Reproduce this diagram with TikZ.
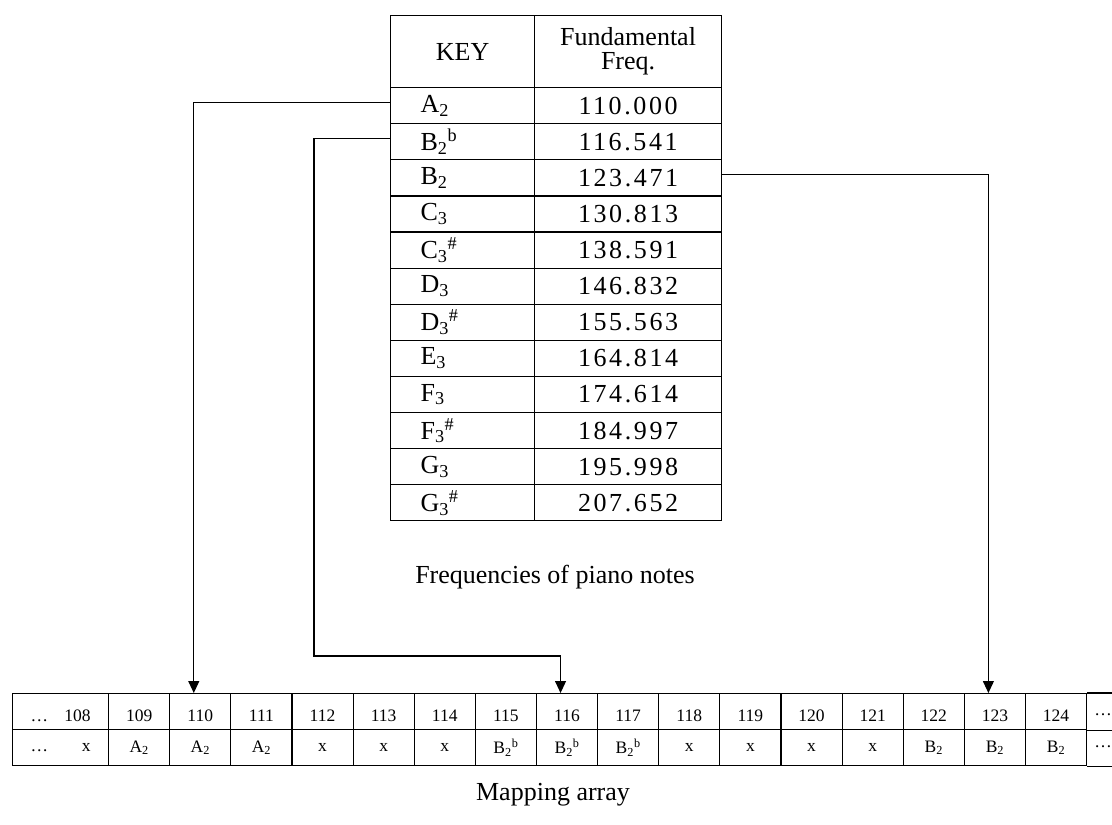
\documentclass[tikz,border=0pt]{standalone}
\usepackage{fontspec}
\setmainfont{Liberation Serif}
\newfontfamily\numfont[LetterSpace=10]{Liberation Serif}
\usetikzlibrary{arrows.meta}
\begin{document}
\begin{tikzpicture}[x=1pt,y=-1pt,
  grid/.style={draw, line width=1.2pt, inner sep=0pt, anchor=north west},
  big/.style={font=\fontsize{26}{24}\selectfont},
  small/.style={font=\fontsize{17.5}{19}\selectfont},
  keycell/.style={grid, big, minimum width=144pt, minimum height=36.1pt,
    inner xsep=30pt, text width=84pt, align=left},
  valcell/.style={grid, big, minimum width=187pt, minimum height=36.1pt},
  slot/.style={grid, small, minimum width=61.125pt, minimum height=36pt},
  toprow/.style={text height=19pt, text depth=0pt},
  link/.style={line width=1.1pt, -{Triangle[width=11pt,length=12pt]}},
]
\useasboundingbox (0,0) rectangle (1112,825);

% frequency table: header
\node[grid, big, minimum width=144pt, minimum height=72pt] (hkey) at (390,15) {KEY};
\node[grid, big, minimum width=187pt, minimum height=72pt, align=center] (hfreq) at (534,15) {Fundamental\\Freq.};

% frequency table: rows
\foreach [count=\i] \k/\f in {
  A\textsubscript{2}/110.000,
  B\textsubscript{2}\textsuperscript{b}/116.541,
  B\textsubscript{2}/123.471,
  C\textsubscript{3}/130.813,
  C\textsubscript{3}\textsuperscript{\#}/138.591,
  D\textsubscript{3}/146.832,
  D\textsubscript{3}\textsuperscript{\#}/155.563,
  E\textsubscript{3}/164.814,
  F\textsubscript{3}/174.614,
  F\textsubscript{3}\textsuperscript{\#}/184.997,
  G\textsubscript{3}/195.998,
  G\textsubscript{3}\textsuperscript{\#}/207.652} {
  \node[keycell] (k\i) at (390,{87+36.1*(\i-1)}) {\k};
  \node[valcell] (v\i) at (534,{87+36.1*(\i-1)}) {\numfont\f\hspace{-2pt}};
}

\node[big] (cap1) at (555,577) {Frequencies of piano notes};

% mapping array
\node[grid, small, toprow, minimum width=96pt, minimum height=36pt, inner xsep=18pt,
  text width=60pt, align=left] (n108) at (12,693) {\ldots\hfill 108};
\node[grid, small, minimum width=96pt, minimum height=36pt, inner xsep=18pt,
  text width=60pt, align=left] (m108) at (12,729) {\ldots\hfill x\hspace{6pt}};

\foreach [count=\j from 109] \v in {
  A\textsubscript{2}, A\textsubscript{2}, A\textsubscript{2}, x, x, x,
  B\textsubscript{2}\textsuperscript{b}, B\textsubscript{2}\textsuperscript{b},
  B\textsubscript{2}\textsuperscript{b}, x, x, x, x,
  B\textsubscript{2}, B\textsubscript{2}, B\textsubscript{2}} {
  \node[slot, toprow] (n\j) at ({108+61.125*(\j-109)},693) {\j};
  \node[slot] (m\j) at ({108+61.125*(\j-109)},729) {\v};
}

% open-ended last cell
\draw[line width=1.2pt] (n124.north east) -- ++(30,0);
\draw[line width=1.2pt] (n124.south east) -- ++(30,0);
\draw[line width=1.2pt] (m124.south east) -- ++(30,0);
\node[small] (n125) at (1103,715) {\ldots};
\node[small] (m125) at (1103,747) {\ldots};

\node[big] (cap2) at (553,795) {Mapping array};

% connectors from keys to array slots
\coordinate (bend) at (314,656);
\draw[link] ([yshift=3.5pt]k1.west) -| ([xshift=-6.5pt]n110.north);
\draw[link] ([yshift=3.5pt]k2.west) -| (bend) -| ([xshift=-6.5pt]n116.north);
\draw[link] ([yshift=3.5pt]v3.east) -| ([xshift=-6.5pt]n123.north);
\end{tikzpicture}
\end{document}
